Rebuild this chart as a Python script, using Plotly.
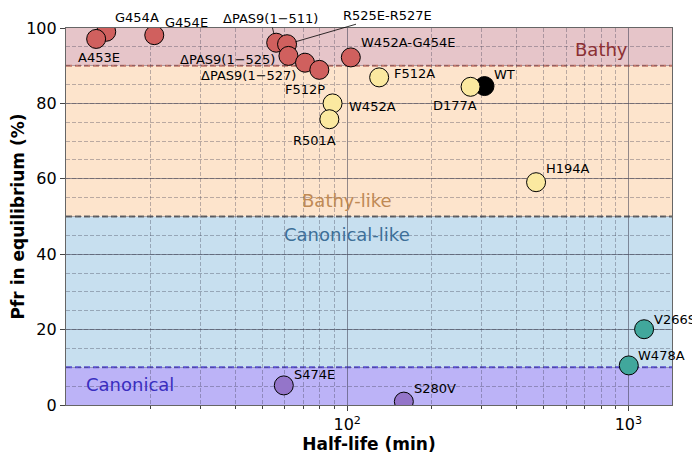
import math
import plotly.graph_objects as go

# mutants, half-life (min) and Pfr fraction in equilibrium (%)
names = ["G454A", "A453E", "G454E", "ΔPAS9(1−511)", "R525E-R527E", "ΔPAS9(1−525)",
         "ΔPAS9(1−527)", "F512P", "W452A-G454E", "W452A", "R501A", "F512A",
         "WT", "D177A", "H194A", "V266S", "W478A", "S280V", "S474E"]
half_life = [13.9, 12.8, 20.6, 55.9, 61.1, 61.8,
             70.8, 79.6, 103, 88.7, 86.4, 129.9,
             307.8, 274.6, 469.5, 1137, 1003, 159, 59.5]
pfr = [99.0, 97.1, 98.1, 96.1, 95.7, 92.6,
       90.8, 88.9, 92.2, 80.0, 75.8, 86.9,
       84.6, 84.4, 59.1, 20.1, 10.5, 0.9, 5.2]
group = ["bathy", "bathy", "bathy", "bathy", "bathy", "bathy",
         "bathy", "bathy", "bathy", "bathy-like", "bathy-like", "bathy-like",
         "wt", "bathy-like", "bathy-like", "canonical-like", "canonical-like", "canonical", "canonical"]

# classification bands (lower, upper, label)
band_names = ["Canonical", "Canonical-like", "Bathy-like", "Bathy"]
band_low = [0, 10, 50, 90]
band_high = [10, 50, 90, 100]

marker_colors = {"bathy": "#d0605e", "bathy-like": "#fbe9a0", "wt": "#000000",
                 "canonical-like": "#41a79c", "canonical": "#9475c9"}
band_fill = ["#bcb3f7", "#c7dfef", "#fde4cc", "#e6c5c9"]
band_text = ["#3a2ec0", "#3d6f98", "#c08a55", "#8b3034"]
# label positions for each band: (half-life, pfr)
band_label_pos = [(16.9, 5.4), (100, 45.1), (100, 54.2), (800, 94.2)]
boundary_lines = [(10, "#5a50d0"), (50, "#666666"), (90, "#c0766a")]

# label offsets in screen pixels (dx right, dy down)
label_offsets = {
    "A453E": (3, 19), "G454A": (31, -14), "G454E": (32, -13),
    "ΔPAS9(1−525)": (-61, 4), "ΔPAS9(1−527)": (-57, 13), "F512P": (-14, 20),
    "W452A-G454E": (58, -15), "W452A": (40, 3), "R501A": (-15, 21),
    "F512A": (35, -4), "D177A": (-16, 19), "WT": (20, -12), "H194A": (32, -14),
    "V266S": (31, -10), "W478A": (33, -10), "S280V": (31, -13), "S474E": (31, -11),
}
arrow_labels = {"ΔPAS9(1−511)": (-6, -24), "R525E-R527E": (100, -29)}

FONT = "DejaVu Sans"

fig = go.Figure()

fig.add_trace(go.Scatter(
    x=half_life, y=pfr, mode="markers",
    marker=dict(size=19, color=[marker_colors[g] for g in group],
                line=dict(color="black", width=1)),
    hovertext=names, showlegend=False,
))

for lo, hi, col in zip(band_low, band_high, band_fill):
    fig.add_shape(type="rect", xref="paper", yref="y", x0=0, x1=1, y0=lo, y1=hi,
                  fillcolor=col, line_width=0, layer="below")

for yv, col in boundary_lines:
    fig.add_shape(type="line", xref="paper", yref="y", x0=0, x1=1, y0=yv, y1=yv,
                  line=dict(color=col, width=2, dash="6px,3px"), layer="between")

for name, (bx, by), col in zip(band_names, band_label_pos, band_text):
    fig.add_annotation(x=math.log10(bx), y=by, xref="x", yref="y", text=name, showarrow=False,
                       font=dict(family=FONT, size=18, color=col))

for n, hx, p in zip(names, half_life, pfr):
    if n in label_offsets:
        dx, dy = label_offsets[n]
        fig.add_annotation(x=math.log10(hx), y=p, text=n, showarrow=False,
                           xshift=dx, yshift=-dy,
                           font=dict(family=FONT, size=13, color="black"))
    elif n in arrow_labels:
        dx, dy = arrow_labels[n]
        fig.add_annotation(x=math.log10(hx), y=p, text=n, showarrow=True,
                           ax=dx, ay=dy, arrowhead=0, arrowwidth=0.8,
                           arrowcolor="black", standoff=9,
                           font=dict(family=FONT, size=13, color="black"))

# the page body adds an 8px margin, so the figure is 8px smaller and margins shifted
fig.update_layout(
    width=692, height=446,
    margin=dict(l=58, r=28, t=20, b=49),
    plot_bgcolor="white", paper_bgcolor="white",
    font=dict(family=FONT, size=16, color="black"),
    xaxis=dict(
        type="log", range=[1.0, 3.155], automargin=False,
        tickvals=[100, 1000], ticktext=["10<sup>2</sup>", "10<sup>3</sup>"],
        ticks="outside", ticklen=5, tickcolor="#444",
        showgrid=True, gridcolor="rgba(60,60,80,0.55)", gridwidth=1,
        minor=dict(tickmode="array",
                   tickvals=[20, 30, 40, 50, 60, 70, 80, 90, 200, 300, 400, 500, 600, 700, 800, 900],
                   ticks="outside", ticklen=3, tickcolor="#444",
                   showgrid=True, gridcolor="rgba(60,60,80,0.35)", griddash="4px,2px", gridwidth=1),
        showline=True, linecolor="#666", linewidth=1.2, mirror=True,
        zeroline=False,
        title=dict(text="<b>Half-life (min)</b>", font=dict(size=17), standoff=6),
    ),
    yaxis=dict(
        range=[0, 100], tickvals=[0, 20, 40, 60, 80, 100], automargin=False,
        ticks="outside", ticklen=5, tickcolor="#444",
        showgrid=True, gridcolor="rgba(60,60,80,0.55)", gridwidth=1,
        minor=dict(dtick=5, showgrid=True, gridcolor="rgba(60,60,80,0.35)",
                   griddash="4px,2px", gridwidth=1),
        showline=True, linecolor="#666", linewidth=1.2, mirror=True,
        zeroline=False,
        title=dict(text="<b>Pfr in equilibrium (%)</b>", font=dict(size=17), standoff=2),
    ),
)

fig.write_html("out.html")
